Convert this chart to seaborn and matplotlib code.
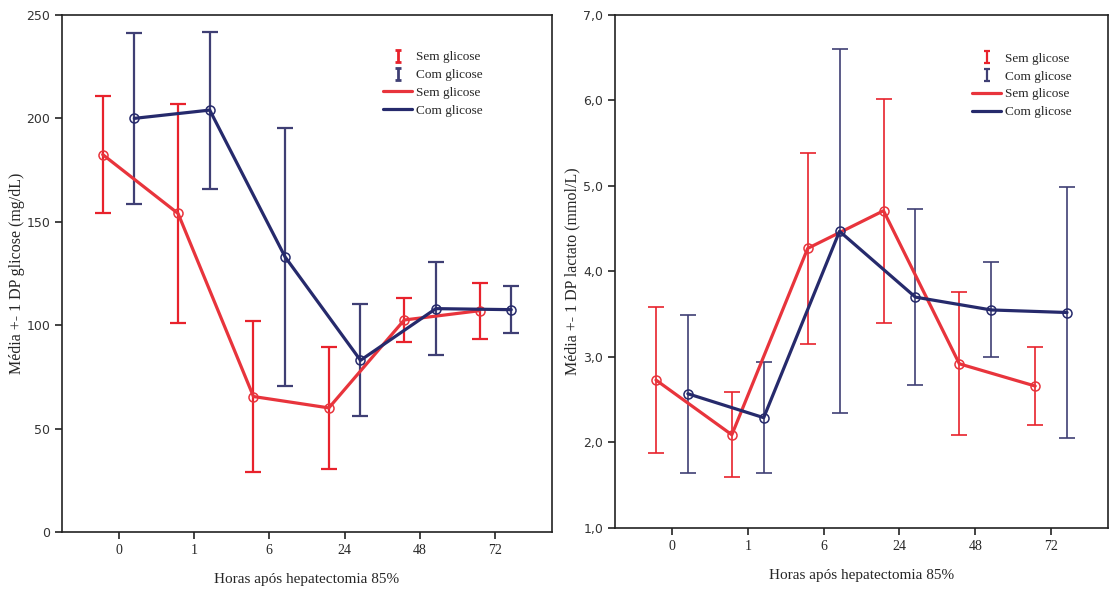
import matplotlib
matplotlib.use("Agg")
import matplotlib.pyplot as plt
from matplotlib.lines import Line2D
from matplotlib.path import Path
from matplotlib.ticker import FuncFormatter
import numpy as np
import pandas as pd
import seaborn as sns

# dados
horas = ["0", "1", "6", "24", "48", "72"]

glic_sem_media = [182.5, 154, 65.5, 60, 102.5, 107]
glic_sem_dp = [28.5, 53, 36.5, 29.5, 10.5, 13.5]
glic_com_media = [200, 204, 133, 83, 108, 107.5]
glic_com_dp = [41.5, 38, 62.5, 27, 22.5, 11.5]

lact_sem_media = [2.73, 2.09, 4.27, 4.71, 2.92, 2.66]
lact_sem_dp = [0.855, 0.495, 1.12, 1.31, 0.835, 0.46]
lact_com_media = [2.57, 2.29, 4.47, 3.70, 3.55, 3.52]
lact_com_dp = [0.925, 0.65, 2.13, 1.025, 0.555, 1.47]

grupos = ["Sem glicose", "Com glicose"]
cor_linha = {"Sem glicose": "#e8343c", "Com glicose": "#262a6c"}
cor_barra = {"Sem glicose": "#e8222c", "Com glicose": "#3f3f74"}
desloc = {"Sem glicose": -0.21, "Com glicose": 0.21}

sns.set_style("ticks")
plt.rcParams["font.family"] = ["Liberation Serif", "DejaVu Serif"]

# marcador em forma de "I" para a legenda das barras de erro
barra_I = Path([(-0.45, -1), (0.45, -1), (0, -1), (0, 1), (-0.45, 1), (0.45, 1)],
               [Path.MOVETO, Path.LINETO, Path.MOVETO, Path.LINETO, Path.MOVETO, Path.LINETO])


def painel(ax, medias, dps, ylim, yticks, ylabel, fmt, lw_barra, legenda_xy, pad_y):
    for g in grupos:
        df = pd.DataFrame({"pos": np.arange(len(horas)) + desloc[g],
                           "media": medias[g], "dp": dps[g]})
        ax.errorbar(df["pos"], df["media"], yerr=df["dp"], fmt="none",
                    ecolor=cor_barra[g], elinewidth=lw_barra, capsize=5.5,
                    capthick=lw_barra, zorder=2)
        sns.lineplot(data=df, x="pos", y="media", ax=ax, color=cor_linha[g],
                     linewidth=2.3, marker="o", markersize=6.5,
                     markerfacecolor="none", markeredgecolor=cor_linha[g],
                     markeredgewidth=1.1, zorder=3)
    ax.set_xlim(-0.75, 5.75)
    ax.set_ylim(*ylim)
    ax.set_xticks(range(len(horas)))
    ax.set_xticklabels(horas, fontsize=10)
    ax.set_yticks(yticks)
    ax.yaxis.set_major_formatter(FuncFormatter(fmt))
    for t in ax.get_yticklabels():
        t.set_family("DejaVu Sans")
        t.set_fontsize(9)
        t.set_color("#333333")
    ax.set_xlabel("Horas após hepatectomia 85%", fontsize=11, labelpad=12)
    ax.set_ylabel(ylabel, fontsize=11.5, labelpad=pad_y)
    for s in ax.spines.values():
        s.set_visible(True)
        s.set_linewidth(1.2)
        s.set_color("#222222")
    ax.tick_params(length=5, width=1.2, color="#222222")
    handles = [
        Line2D([], [], linestyle="none", marker=barra_I, markersize=8.5,
               markeredgewidth=lw_barra + 0.4, color=cor_barra["Sem glicose"]),
        Line2D([], [], linestyle="none", marker=barra_I, markersize=8.5,
               markeredgewidth=lw_barra + 0.4, color=cor_barra["Com glicose"]),
        Line2D([], [], color=cor_linha["Sem glicose"], linewidth=2.3),
        Line2D([], [], color=cor_linha["Com glicose"], linewidth=2.3),
    ]
    ax.legend(handles, grupos + grupos, loc="upper left", bbox_to_anchor=legenda_xy,
              frameon=False, fontsize=9.5, handlelength=2.2, handletextpad=0.25,
              labelspacing=0.42, borderaxespad=0)


fig = plt.figure(figsize=(11.09, 5.89), dpi=100)
ax1 = fig.add_axes([0.0559, 0.0968, 0.4418, 0.8778])
ax2 = fig.add_axes([0.5546, 0.1036, 0.4445, 0.871])

painel(ax1,
       {"Sem glicose": glic_sem_media, "Com glicose": glic_com_media},
       {"Sem glicose": glic_sem_dp, "Com glicose": glic_com_dp},
       (0, 250), [0, 50, 100, 150, 200, 250], "Média +- 1 DP glicose (mg/dL)",
       lambda v, p: f"{v:.0f}", 1.6, (0.645, 0.94), 1)
painel(ax2,
       {"Sem glicose": lact_sem_media, "Com glicose": lact_com_media},
       {"Sem glicose": lact_sem_dp, "Com glicose": lact_com_dp},
       (1, 7), [1, 2, 3, 4, 5, 6, 7], "Média +- 1 DP lactato (mmol/L)",
       lambda v, p: f"{v:.1f}".replace(".", ","), 1.2, (0.714, 0.937), 2)

fig.savefig("out.png", dpi=100)
